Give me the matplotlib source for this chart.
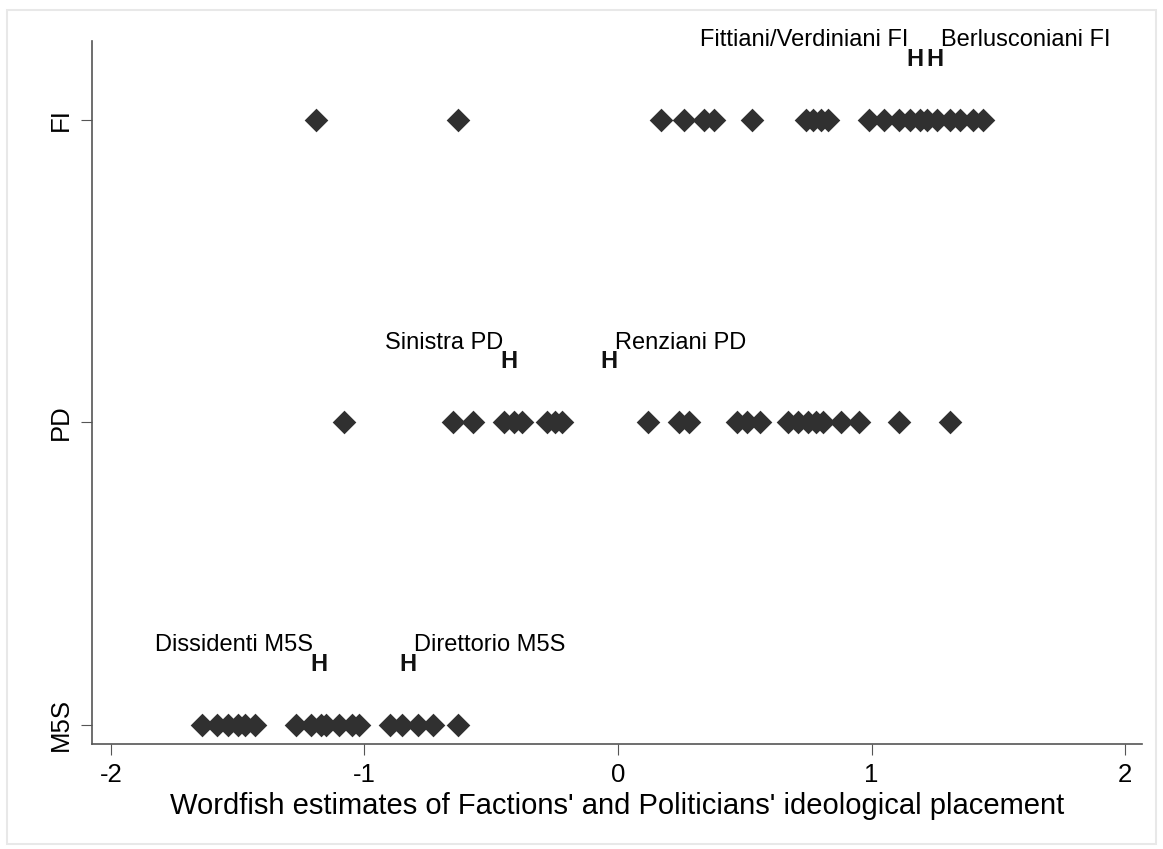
import matplotlib
matplotlib.use("Agg")
import matplotlib.pyplot as plt
from matplotlib.patches import Rectangle

# parties on the y axis (M5S=1, PD=2, FI=3)
parties = ["M5S", "PD", "FI"]

# politicians' wordfish estimates
m5s_pol = [-1.64, -1.58, -1.54, -1.50, -1.47, -1.43,
           -1.27, -1.21, -1.17, -1.15, -1.10, -1.05, -1.02,
           -0.90, -0.85, -0.79, -0.73, -0.63]
pd_pol = [-1.08, -0.65, -0.57, -0.45, -0.41, -0.38, -0.28, -0.25, -0.22,
          0.12, 0.24, 0.28, 0.47, 0.51, 0.56, 0.67, 0.71, 0.75, 0.78,
          0.81, 0.88, 0.95, 1.11, 1.31]
fi_pol = [-1.19, -0.63, 0.17, 0.26, 0.34, 0.38, 0.53, 0.74, 0.77, 0.80,
          0.83, 0.99, 1.05, 1.11, 1.15, 1.19, 1.22, 1.26, 1.31, 1.35,
          1.40, 1.44]

# factions (H markers)
faction_names = ["Dissidenti M5S", "Direttorio M5S", "Sinistra PD",
                 "Renziani PD", "Fittiani/Verdiniani FI", "Berlusconiani FI"]
faction_party = [1, 1, 2, 2, 3, 3]
faction_x = [-1.18, -0.83, -0.43, -0.035, 1.17, 1.25]
faction_side = ["left", "right", "left", "right", "left", "right"]

plt.rcParams['font.family'] = ['Liberation Sans', 'DejaVu Sans']
plt.rcParams['axes.unicode_minus'] = False

fig = plt.figure(figsize=(11.63, 8.49), dpi=100)
fig.patches.append(Rectangle((0.006, 0.006), 0.988, 0.982, transform=fig.transFigure,
                             fill=False, edgecolor='#e8e8e8', linewidth=1.5))
ax = fig.add_axes([0.079, 0.1237, 0.903, 0.828])

mcol = '#303030'
for i, vals in enumerate([m5s_pol, pd_pol, fi_pol]):
    ax.scatter(vals, [i + 1] * len(vals), marker='D', s=145, color=mcol,
               linewidths=0, zorder=3)

for name, p, x, side in zip(faction_names, faction_party, faction_x, faction_side):
    yh = p + 0.2
    ax.text(x, yh, "H", ha='center', va='center', fontsize=17,
            fontweight='bold', color='#111111')
    dx = -6 if side == "left" else 6
    ax.annotate(name, xy=(x, yh), xytext=(dx, 13), textcoords='offset pixels',
                ha='right' if side == "left" else 'left', va='baseline',
                fontsize=17)

ax.set_xlim(-2.075, 2.067)
ax.set_ylim(0.937, 3.26)
ax.set_xticks([-2, -1, 0, 1, 2])
ax.set_yticks([1, 2, 3])
ax.set_yticklabels(parties, rotation=90, va='center')
ax.tick_params(axis='both', labelsize=18.5, length=8, color='#555555', pad=6)

for s in ['top', 'right']:
    ax.spines[s].set_visible(False)
for s in ['left', 'bottom']:
    ax.spines[s].set_color('#555555')
    ax.spines[s].set_linewidth(1.2)

ax.set_xlabel("Wordfish estimates of Factions' and Politicians' ideological placement",
              fontsize=21, labelpad=3)

fig.savefig("out.png", dpi=100)
